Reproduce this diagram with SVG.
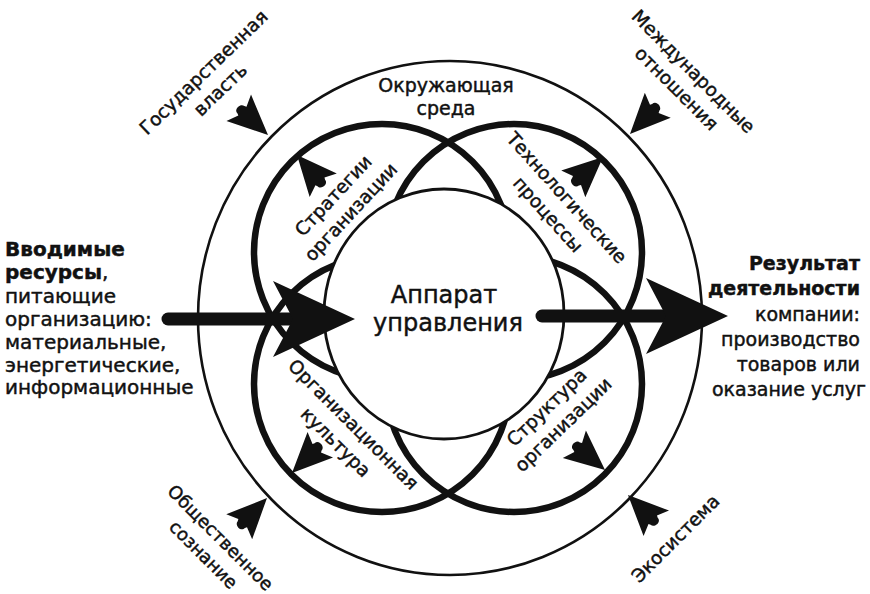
<svg xmlns="http://www.w3.org/2000/svg" xmlns:xlink="http://www.w3.org/1999/xlink" width="870" height="594" viewBox="0 0 870 594">
  <style>
    .ring{fill:none;stroke:#111;stroke-width:2.6}
    .petal{fill:none;stroke:#111;stroke-width:6.5}
    .core{fill:#fff;stroke:#111;stroke-width:2.8}
    .t{font-family:"DejaVu Sans","Liberation Sans",sans-serif;fill:#111;stroke:#111;stroke-width:0.45}
    .mid{text-anchor:middle}
    .end{text-anchor:end}
    .b{font-weight:bold}
    .shaft{stroke:#111;stroke-width:13;stroke-linecap:round;fill:none}
    .ink{fill:#111}
  </style>
  <defs>
    <!-- small barbed dart, tip at origin, pointing along +x -->
    <path id="dart" d="M0,0 L-40,-18 L-35,-6 L-37,-5 C-42,-5 -43,5 -37,5 L-35,6 L-40,18 Z"/>
    <!-- large arrowhead with notched back -->
    <path id="head" d="M0,0 L-82,-38 L-62,0 L-82,38 Z"/>
  </defs>

  <rect width="870" height="594" fill="#fff"/>

  <!-- environment ring -->
  <g id="environment">
    <ellipse class="ring" cx="450" cy="318" rx="252" ry="257"/>
    <text class="t mid" font-size="19"><tspan x="446" y="92">Окружающая</tspan><tspan x="446" y="115">среда</tspan></text>
  </g>

  <!-- four overlapping petals -->
  <g id="strategy">
    <circle class="petal" cx="382" cy="252" r="128"/>
  </g>
  <g id="technology">
    <circle class="petal" cx="514" cy="252" r="128"/>
  </g>
  <g id="culture">
    <circle class="petal" cx="382" cy="384" r="128"/>
  </g>
  <g id="structure">
    <circle class="petal" cx="514" cy="384" r="128"/>
  </g>

  <!-- management core -->
  <g id="management">
    <ellipse class="core" cx="444" cy="314" rx="120" ry="125"/>
    <text class="t mid" font-size="24"><tspan x="444" y="303">Аппарат</tspan><tspan x="448" y="331">управления</tspan></text>
  </g>

  <!-- petal labels -->
  <g id="strategy-label">
    <text class="t mid" font-size="18.5" transform="translate(338,200) rotate(-47)"><tspan x="0" y="0">Стратегии</tspan><tspan x="0" y="24">организации</tspan></text>
  </g>
  <g id="technology-label">
    <text class="t mid" font-size="18.5" transform="translate(562,202) rotate(48)"><tspan x="0" y="0">Технологические</tspan><tspan x="0" y="25">процессы</tspan></text>
  </g>
  <g id="culture-label">
    <text class="t mid" font-size="18.5" transform="translate(349,429) rotate(45)"><tspan x="0" y="0">Организационная</tspan><tspan x="0" y="25">культура</tspan></text>
  </g>
  <g id="structure-label">
    <text class="t mid" font-size="18.5" transform="translate(551,412) rotate(-44)"><tspan x="0" y="0">Структура</tspan><tspan x="0" y="24">организации</tspan></text>
  </g>

  <!-- external factors -->
  <g id="state-power">
    <text class="t mid" font-size="18.5" transform="translate(208,77) rotate(-44)"><tspan x="0" y="0">Государственная</tspan><tspan x="0" y="24">власть</tspan></text>
  </g>
  <g id="international">
    <text class="t mid" font-size="18.5" transform="translate(689,76) rotate(45)"><tspan x="0" y="0">Международные</tspan><tspan x="0" y="24">отношения</tspan></text>
  </g>
  <g id="public-mind">
    <text class="t mid" font-size="18" transform="translate(216,542) rotate(45)"><tspan x="0" y="0">Общественное</tspan><tspan x="0" y="24">сознание</tspan></text>
  </g>
  <g id="ecosystem">
    <text class="t mid" font-size="18.5" transform="translate(680,543) rotate(-45)">Экосистема</text>
  </g>

  <!-- inputs and outputs -->
  <g id="inputs">
    <text class="t" font-size="20">
      <tspan x="5" y="256" class="b">Вводимые</tspan>
      <tspan x="5" y="279"><tspan class="b">ресурсы</tspan>,</tspan>
      <tspan x="5" y="303">питающие</tspan>
      <tspan x="5" y="326">организацию:</tspan>
      <tspan x="5" y="349">материальные,</tspan>
      <tspan x="5" y="372">энергетические,</tspan>
      <tspan x="5" y="394">информационные</tspan>
    </text>
  </g>
  <g id="outputs">
    <text class="t end" font-size="19">
      <tspan x="866" y="270" class="b">Результат</tspan>
      <tspan x="866" y="295" class="b">деятельности</tspan>
      <tspan x="866" y="321">компании:</tspan>
      <tspan x="866" y="346">производство</tspan>
      <tspan x="866" y="371">товаров или</tspan>
      <tspan x="866" y="396">оказание услуг</tspan>
    </text>
  </g>

  <!-- connectors -->
  <g id="connectors">
    <path class="shaft" d="M168,319 H300"/>
    <use xlink:href="#head" class="ink" transform="translate(355,319)"/>
    <path class="shaft" d="M542,316 H670"/>
    <use xlink:href="#head" class="ink" transform="translate(728,316)"/>

    <use xlink:href="#dart" class="ink" transform="translate(268,135) rotate(43)"/>
    <use xlink:href="#dart" class="ink" transform="translate(630,134) rotate(134)"/>
    <use xlink:href="#dart" class="ink" transform="translate(267,498) rotate(-46)"/>
    <use xlink:href="#dart" class="ink" transform="translate(628,495) rotate(-135)"/>

    <use xlink:href="#dart" class="ink" transform="translate(297,155) rotate(-131)"/>
    <use xlink:href="#dart" class="ink" transform="translate(603,157) rotate(-42)"/>
    <use xlink:href="#dart" class="ink" transform="translate(292,473) rotate(135)"/>
    <use xlink:href="#dart" class="ink" transform="translate(605,470) rotate(40)"/>
  </g>
</svg>
